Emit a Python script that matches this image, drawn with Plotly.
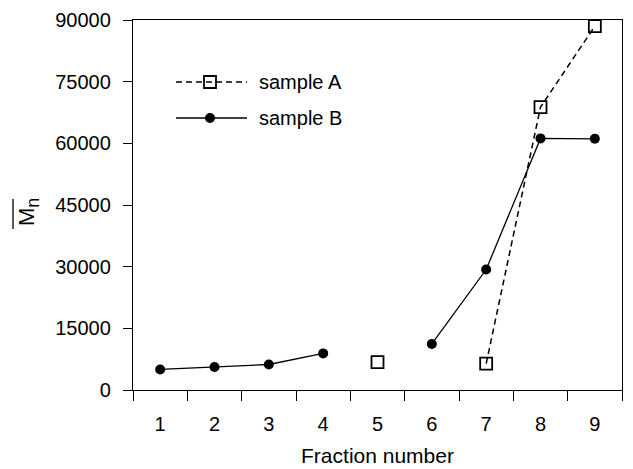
import plotly.graph_objects as go

fractions = [1, 2, 3, 4, 5, 6, 7, 8, 9]
sample_a = [None, None, None, None, 6800, None, 6400, 68800, 88500]
sample_b = [5000, 5600, 6200, 8900, None, 11200, 29300, 61200, 61100]
y_ticks = [0, 15000, 30000, 45000, 60000, 75000, 90000]

FONT = "Liberation Sans, Arial, sans-serif"
W, H = 633, 469
L, R, T, B = 133, 11, 20, 79
PW, PH = W - L - R, H - T - B

fig = go.Figure()
fig.add_trace(go.Scatter(
    x=fractions, y=sample_a, mode="lines+markers", name="sample A",
    line=dict(color="black", width=1.5, dash="6px,4px"),
    marker=dict(symbol="square-open", size=12, color="black", line=dict(width=1.8, color="black")),
    connectgaps=False, showlegend=False,
))
fig.add_trace(go.Scatter(
    x=fractions, y=sample_b, mode="lines+markers", name="sample B",
    line=dict(color="black", width=1.3),
    marker=dict(symbol="circle", size=10, color="black", line=dict(width=0, color="black")),
    connectgaps=False, showlegend=False,
))

# custom legend on an overlay axis measured in pixels of the plot area
leg = [("sample A", 82, "6px,4px", "square-open", 12, 1.5, 1.8),
       ("sample B", 118, "solid", "circle", 10, 1.3, 0)]
for name, py, dash, sym, size, lw, mlw in leg:
    yy = H - B - py
    fig.add_trace(go.Scatter(
        x=[176 - L, 247 - L], y=[yy, yy], mode="lines", xaxis="x2", yaxis="y2",
        line=dict(color="black", width=lw, dash=dash), showlegend=False, hoverinfo="skip"))
    fig.add_trace(go.Scatter(
        x=[210 - L], y=[yy], mode="markers", xaxis="x2", yaxis="y2",
        marker=dict(symbol=sym, size=size, color="black", line=dict(width=mlw, color="black")),
        showlegend=False, hoverinfo="skip"))
    fig.add_annotation(x=257 - L, y=yy, xref="x2", yref="y2", text=name,
                       showarrow=False, xanchor="left", yanchor="middle",
                       font=dict(family=FONT, size=20, color="black"))

fig.update_layout(
    width=W, height=H,
    margin=dict(l=L, r=R, t=T, b=B),
    paper_bgcolor="white", plot_bgcolor="white",
    font=dict(family=FONT, size=20, color="black"),
    xaxis=dict(
        range=[0.5, 9.5], tickvals=fractions, ticktext=[str(f) for f in fractions],
        ticks="outside", ticklen=16, tickcolor="rgba(0,0,0,0)",
        showline=True, linecolor="black", linewidth=1.3, mirror=True,
        showgrid=False, zeroline=False, automargin=False,
        minor=dict(tickmode="linear", tick0=0.5, dtick=1, ticks="outside",
                   ticklen=10, tickcolor="black", tickwidth=1.3, showgrid=False),
        title=dict(text="Fraction number", font=dict(size=21), standoff=14),
        tickfont=dict(size=20),
    ),
    yaxis=dict(
        range=[0, 90000], tickvals=y_ticks, ticktext=[str(v) for v in y_ticks],
        ticks="outside", ticklen=9, tickcolor="black", tickwidth=1.3,
        showline=True, linecolor="black", linewidth=1.3, mirror=True,
        showgrid=False, zeroline=False, ticklabelstandoff=8, automargin=False,
        tickfont=dict(size=20),
    ),
    xaxis2=dict(range=[0, PW], overlaying="x", visible=False, fixedrange=True),
    yaxis2=dict(range=[0, PH], overlaying="y", visible=False, fixedrange=True),
    showlegend=False,
)

# y-axis title: M_n with an overline
fig.add_annotation(x=(28 - L) / PW, y=(H - B - 212) / PH, xref="paper", yref="paper",
                   text="M<sub><span style='font-size:18px'>n</span></sub>", textangle=-90,
                   showarrow=False, xanchor="center", yanchor="middle",
                   font=dict(family=FONT, size=22, color="black"))
fig.add_shape(type="line", xref="paper", yref="paper",
              x0=(13 - L) / PW, x1=(13 - L) / PW,
              y0=(H - B - 199) / PH, y1=(H - B - 229) / PH,
              line=dict(color="black", width=1.3))

fig.write_html("out.html")
